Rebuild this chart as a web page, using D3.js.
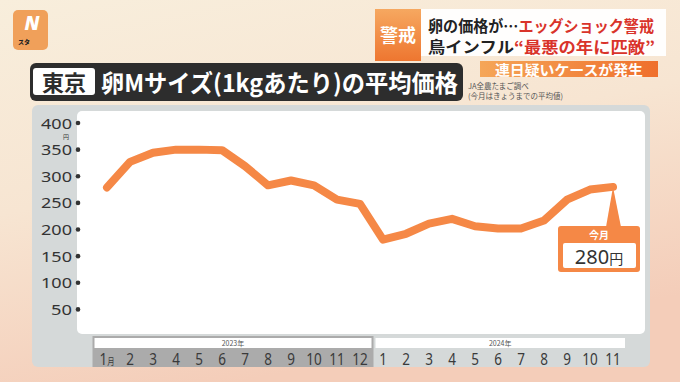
<!DOCTYPE html>
<html><head><meta charset="utf-8">
<script src="https://cdn.jsdelivr.net/npm/d3@7"></script>
<style>
html,body{margin:0;padding:0;overflow:hidden;background:#f7e6d3;}
svg{display:block;font-family:"Noto Sans CJK JP","Noto Sans",sans-serif;}
</style></head>
<body>
<svg id="c" width="680" height="382"></svg>
<script>
// ---- data ----
const years = ["2023年", "2024年"];
const months2023 = ["1", "2", "3", "4", "5", "6", "7", "8", "9", "10", "11", "12"];
const months2024 = ["1", "2", "3", "4", "5", "6", "7", "8", "9", "10", "11"];
const values2023 = [279, 327, 344, 350, 350, 349, 319, 283, 292, 283, 256, 248];
const values2024 = [181, 192, 211, 220, 206, 202, 202, 217, 256, 275, 280];
const yTicks = [50, 100, 150, 200, 250, 300, 350, 400];
const currentLabel = "今月";
const currentValue = 280;
const title = "卵Mサイズ(1kgあたり)の平均価格";
const place = "東京";
const sourceLines = ["JA全農たまご調べ", "(今月はきょうまでの平均値)"];

const svg = d3.select("#c");
const defs = svg.append("defs");
const bg = defs.append("linearGradient").attr("id","bg").attr("x1","0").attr("y1","0").attr("x2","0.35").attr("y2","1");
bg.append("stop").attr("offset","0").attr("stop-color","#f8eedc");
bg.append("stop").attr("offset","0.5").attr("stop-color","#f7e5d2");
bg.append("stop").attr("offset","1").attr("stop-color","#f4cdb9");
const og = defs.append("linearGradient").attr("id","og").attr("x1","0").attr("y1","0").attr("x2","0").attr("y2","1");
og.append("stop").attr("offset","0").attr("stop-color","#f6a860");
og.append("stop").attr("offset","1").attr("stop-color","#ee7630");
const og2 = defs.append("linearGradient").attr("id","og2").attr("x1","0").attr("y1","0").attr("x2","1").attr("y2","0");
og2.append("stop").attr("offset","0").attr("stop-color","#f5a658");
og2.append("stop").attr("offset","1").attr("stop-color","#ef6f2c");

svg.append("rect").attr("width",680).attr("height",382).attr("fill","url(#bg)");

// logo
svg.append("rect").attr("x",13).attr("y",10).attr("width",35).attr("height",40).attr("rx",5).attr("fill","#f0a05a");
svg.append("text").attr("x",32).attr("y",30).attr("text-anchor","middle").attr("font-size",19).attr("font-weight",900)
  .attr("font-style","italic").attr("fill","#fff").attr("font-family","Noto Sans").text("N");
svg.append("text").attr("x",18).attr("y",44).attr("font-size",6).attr("font-weight",900).attr("fill","#222").text("スタ");

// headline
svg.append("rect").attr("x",420).attr("y",9).attr("width",246).attr("height",47).attr("fill","#fff").attr("opacity",0.95);
svg.append("rect").attr("x",375).attr("y",9).attr("width",46).attr("height",52).attr("fill","url(#og)");
svg.append("text").attr("x",398).attr("y",42).attr("text-anchor","middle").attr("font-size",18).attr("font-weight",700)
  .attr("fill","#fff").text("警戒");
const h1 = svg.append("text").attr("x",428).attr("y",32).attr("font-size",15.5).attr("font-weight",700).attr("textLength",226).attr("lengthAdjust","spacingAndGlyphs");
h1.append("tspan").attr("fill","#222").text("卵の価格が…");
h1.append("tspan").attr("fill","#d9332a").text("エッグショック警戒");
const h2 = svg.append("text").attr("x",428).attr("y",53).attr("font-size",15.5).attr("font-weight",700).attr("textLength",227).attr("lengthAdjust","spacingAndGlyphs");
h2.append("tspan").attr("fill","#222").text("鳥インフル");
h2.append("tspan").attr("fill","#d9332a").text("“最悪の年に匹敵”");
svg.append("rect").attr("x",480).attr("y",61).attr("width",178).attr("height",16).attr("fill","url(#og2)");
svg.append("text").attr("x",569).attr("y",75).attr("text-anchor","middle").attr("font-size",14).attr("font-weight",700)
  .attr("fill","#fff").attr("textLength",148).attr("lengthAdjust","spacingAndGlyphs").text("連日疑いケースが発生");

// title bar
svg.append("rect").attr("x",30).attr("y",63).attr("width",433).attr("height",38).attr("rx",6).attr("fill","#2d2d2d");
svg.append("rect").attr("x",33).attr("y",68).attr("width",62).attr("height",27).attr("rx",3).attr("fill","#fff");
svg.append("text").attr("x",64).attr("y",91).attr("text-anchor","middle").attr("font-size",22).attr("font-weight",700)
  .attr("fill","#2d2d2d").text(place);
svg.append("text").attr("x",101).attr("y",92).attr("font-size",24).attr("font-weight",700).attr("fill","#fff")
  .attr("textLength",357).attr("lengthAdjust","spacingAndGlyphs").text(title);
sourceLines.forEach((s,i)=>{
  svg.append("text").attr("x",468).attr("y",89+i*9.5).attr("font-size",7.5).attr("fill","#555").text(s);
});

// panel
svg.append("rect").attr("x",32).attr("y",105).attr("width",618).attr("height",262).attr("rx",6).attr("fill","#d5d9d9");
svg.append("rect").attr("x",77).attr("y",111).attr("width",568).attr("height",223).attr("rx",5).attr("fill","#fff");

// scales
const allMonths = months2023.map((m,i)=>({y:0,i,m})).concat(months2024.map((m,i)=>({y:1,i,m})));
const values = values2023.concat(values2024);
const x = d3.scalePoint().domain(d3.range(values.length)).range([107, 613]);
const y = d3.scaleLinear().domain([0, 400]).range([336, 123]);

// y ticks
const yt = svg.append("g");
yTicks.forEach(t=>{
  yt.append("circle").attr("cx",78).attr("cy",y(t)).attr("r",2.3).attr("fill","#333");
  yt.append("text").attr("x",72).attr("y",y(t)+5.5).attr("text-anchor","end").attr("font-size",15)
    .attr("font-family","Noto Sans").attr("fill","#333").attr("textLength",t>=100?31:21).attr("lengthAdjust","spacingAndGlyphs").text(t);
});
svg.append("text").attr("x",66).attr("y",138.5).attr("text-anchor","middle").attr("font-size",6).attr("fill","#333").text("円");

// bottom strips
const split = (x(11)+x(12))/2 + 2;
svg.append("rect").attr("x",x(0)-14.5).attr("y",336).attr("width",split-(x(0)-14.5)).attr("height",31).attr("fill","#ababab");
svg.append("rect").attr("x",x(0)-12.5).attr("y",338).attr("width",split-2-(x(0)-12.5)).attr("height",10).attr("fill","#fff");
svg.append("rect").attr("x",split+2).attr("y",338).attr("width",x(values.length-1)+12-(split+2)).attr("height",10).attr("fill","#fff");
svg.append("text").attr("x",(x(0)-12.5+split-2)/2).attr("y",345.5).attr("text-anchor","middle").attr("font-size",7).attr("fill","#555").text(years[0]);
svg.append("text").attr("x",(split+2+x(values.length-1)+12)/2).attr("y",345.5).attr("text-anchor","middle").attr("font-size",7).attr("fill","#555").text(years[1]);

allMonths.forEach((d,k)=>{
  const g = svg.append("g").attr("transform",`translate(${x(k)},365) scale(0.82,1)`);
  const t = g.append("text").attr("text-anchor","middle").attr("font-size",16.5).attr("font-family","Noto Sans").attr("fill","#3a3a3a");
  t.append("tspan").text(d.m);
  if(k===0){ t.append("tspan").attr("font-size",9).attr("font-family","Noto Sans CJK JP").text("月"); }
});

// line
const line = d3.line().x((d,i)=>x(i)).y(d=>y(d));
svg.append("path").datum(values).attr("d",line).attr("fill","none").attr("stroke","#f58846")
  .attr("stroke-width",8).attr("stroke-linejoin","round").attr("stroke-linecap","round");

// callout
const lx = x(values.length-1), ly = y(currentValue);
const cx = 599;
svg.append("path").attr("d",`M${lx},${ly} L${lx+8},227 L${lx-7},227 Z`).attr("fill","#f58846");
svg.append("rect").attr("x",cx-41).attr("y",226).attr("width",82).attr("height",46).attr("rx",3).attr("fill","#f58846");
svg.append("text").attr("x",cx).attr("y",238.5).attr("text-anchor","middle").attr("font-size",10).attr("font-weight",700).attr("fill","#fff").text(currentLabel);
svg.append("rect").attr("x",cx-36).attr("y",243).attr("width",73).attr("height",25).attr("rx",2).attr("fill","#fff");
const vt = svg.append("text").attr("x",cx).attr("y",264).attr("text-anchor","middle").attr("fill","#333");
vt.append("tspan").attr("font-size",20).attr("font-family","Noto Sans").text(currentValue);
vt.append("tspan").attr("font-size",14).text("円");
</script>
</body></html>
